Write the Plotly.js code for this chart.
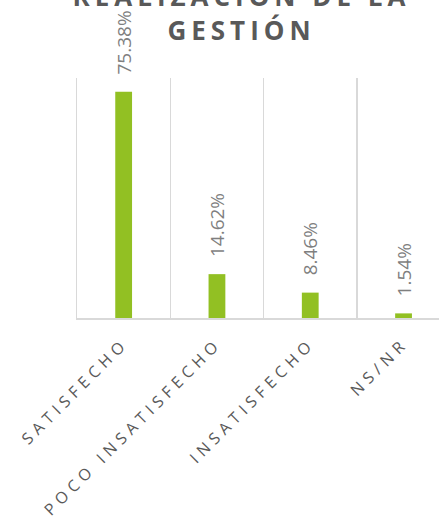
<!DOCTYPE html>
<html>
<head>
<meta charset="utf-8">
<script src="https://cdn.plot.ly/plotly-3.0.1.min.js"></script>
<style>
  html, body { margin: 0; padding: 0; overflow: hidden; background: #fff; }
  #chart { position: absolute; left: 0; top: -40px; }
  .xtick text { letter-spacing: 5px; }
  .gtitle { letter-spacing: 5px; }
</style>
</head>
<body>
<div id="chart"></div>
<script>
const categories = ["SATISFECHO", "POCO INSATISFECHO", "INSATISFECHO", "NS/NR"];
const values = [75.38, 14.62, 8.46, 1.54];
const valueLabels = ["75.38%", "14.62%", "8.46%", "1.54%"];
const titleText = "REALIZACIÓN DE LA<br>GESTIÓN";

const SHIFT = 40;
const W = 439, H = 523 + SHIFT;

const trace = {
  type: "bar",
  x: categories,
  y: values,
  marker: { color: "#92c023" },
  hoverinfo: "none"
};

const annotations = categories.map((c, i) => ({
  x: c, y: values[i], xref: "x", yref: "y",
  text: valueLabels[i],
  showarrow: false,
  textangle: -90,
  yanchor: "bottom",
  xanchor: "center",
  yshift: 15,
  font: { family: "Open Sans, sans-serif", size: 19, color: "#7f7f7f" }
}));

const layout = {
  width: W, height: H,
  margin: { l: 77, r: 0, t: 78 + SHIFT, b: 205 },
  paper_bgcolor: "#ffffff",
  plot_bgcolor: "#ffffff",
  showlegend: false,
  bargap: 0.82,
  title: {
    text: titleText,
    x: 241.5 / W, xanchor: "center",
    xref: "container",
    y: 1 - 46 / H, yanchor: "top", yref: "container",
    font: { family: "Open Sans, sans-serif", size: 26, weight: 700, color: "#595959" }
  },
  xaxis: {
    type: "category",
    range: [-0.5, 3.38],
    tickson: "boundaries",
    showgrid: true,
    gridcolor: "#d9d9d9",
    gridwidth: 1.5,
    showline: true,
    linecolor: "#d9d9d9",
    linewidth: 2,
    ticks: "",
    tickangle: -45,
    ticklabelstandoff: 8,
    tickfont: { family: "Open Sans, sans-serif", size: 16, color: "#595959" },
    fixedrange: true
  },
  yaxis: {
    range: [0, 80],
    showgrid: false,
    zeroline: false,
    showline: true,
    linecolor: "#d9d9d9",
    linewidth: 1.5,
    showticklabels: false,
    ticks: "",
    fixedrange: true
  },
  annotations: annotations
};

Plotly.newPlot("chart", [trace], layout, { displayModeBar: false, staticPlot: true });
</script>
</body>
</html>
